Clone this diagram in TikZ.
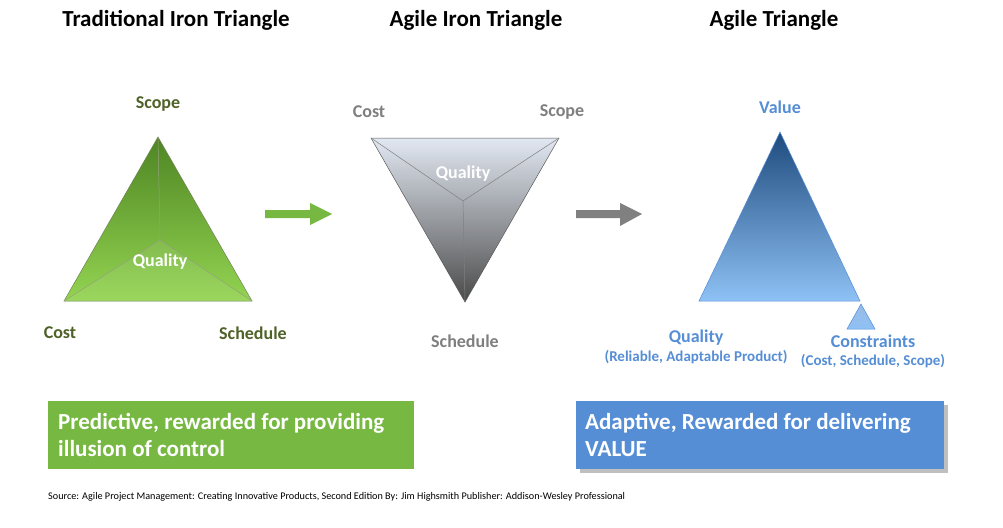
\documentclass[tikz,border=0pt]{standalone}
\usepackage{fontspec}
\setmainfont{Carlito}
\definecolor{olivegreen}{HTML}{4F6228}
\definecolor{boxgreen}{HTML}{77B843}
\definecolor{boxblue}{HTML}{558ED5}
\definecolor{lblgray}{HTML}{7F7F7F}
\definecolor{lblblue}{HTML}{558ED5}
\definecolor{gtop}{HTML}{4E8523}
\definecolor{gbot}{HTML}{93D451}
\definecolor{stop}{HTML}{E2E8F2}
\definecolor{sbot}{HTML}{4A4A4A}
\definecolor{btop}{HTML}{1F4B7E}
\definecolor{bbot}{HTML}{8EC1F5}
\tikzset{
  title/.style={font=\bfseries\fontsize{23}{27}\selectfont, text=black},
  vlabel/.style={font=\bfseries\fontsize{18}{21}\selectfont},
  sublabel/.style={font=\bfseries\fontsize{15}{18}\selectfont, text=lblblue},
  facet/.style={line width=0.5pt},
  boxtext/.style={font=\bfseries\fontsize{23}{27}\selectfont, text=white, align=left, anchor=north west, inner sep=0pt},
}
\begin{document}
\begin{tikzpicture}[x=1pt,y=1pt]
\useasboundingbox (0,0) rectangle (1003,-527);
\fill[white] (0,0) rectangle (1003,-527);

% titles
\node[title] (t1) at (176,-20) {Traditional Iron Triangle};
\node[title] (t2) at (476,-20) {Agile Iron Triangle};
\node[title] (t3) at (774,-20) {Agile Triangle};

% triangle 1
\coordinate (a1) at (158,-137);
\coordinate (b1) at (64,-301);
\coordinate (c1) at (252,-301);
\coordinate (q1) at (160,-240);
\shade[top color=gtop, bottom color=gbot] (a1) -- (b1) -- (c1) -- cycle;
\fill[white, opacity=0.08] (q1) -- (b1) -- (c1) -- cycle;
\draw[facet, draw=olivegreen!80] (a1) -- (b1) -- (c1) -- cycle;
\draw[facet, draw=olivegreen!60] (q1) -- (a1) (q1) -- (b1) (q1) -- (c1);
\node[vlabel, text=olivegreen] (scope1) at (158,-104) {Scope};
\node[vlabel, text=olivegreen] (cost1) at (60,-333) {Cost};
\node[vlabel, text=olivegreen] (sched1) at (253,-333) {Schedule};
\node[vlabel, text=white] (qual1) at (160,-262) {Quality};

% green arrow
\fill[boxgreen] (265,-210) -- (310,-210) -- (310,-203) -- (332,-214) -- (310,-225) -- (310,-218) -- (265,-218) -- cycle;

% triangle 2
\coordinate (a2) at (371,-138);
\coordinate (b2) at (559,-138);
\coordinate (c2) at (465,-302);
\coordinate (q2) at (463,-201);
\shade[top color=stop, bottom color=sbot] (a2) -- (b2) -- (c2) -- cycle;
\draw[facet, draw=gray!70!black] (a2) -- (b2) -- (c2) -- cycle;
\draw[facet, draw=gray] (q2) -- (a2) (q2) -- (b2) (q2) -- (c2);
\node[vlabel, text=lblgray] (cost2) at (369,-112) {Cost};
\node[vlabel, text=lblgray] (scope2) at (562,-112) {Scope};
\node[vlabel, text=white] (qual2) at (463,-174) {Quality};
\node[vlabel, text=lblgray] (sched2) at (465,-341) {Schedule};

% gray arrow
\fill[gray] (576,-210) -- (620,-210) -- (620,-203) -- (642,-214) -- (620,-226) -- (620,-218) -- (576,-218) -- cycle;

% triangle 3
\coordinate (a3) at (780,-132);
\coordinate (b3) at (699,-301);
\coordinate (c3) at (860,-301);
\shade[top color=btop, bottom color=bbot] (a3) -- (b3) -- (c3) -- cycle;
\draw[facet, draw=lblblue] (a3) -- (b3) -- (c3) -- cycle;
\coordinate (a4) at (861,-304);
\coordinate (b4) at (847,-329);
\coordinate (c4) at (875,-329);
\shade[top color=lblblue!60, bottom color=bbot] (a4) -- (b4) -- (c4) -- cycle;
\draw[facet, draw=lblblue] (a4) -- (b4) -- (c4) -- cycle;
\node[vlabel, text=lblblue] (value3) at (780,-107) {Value};
\node[vlabel, text=lblblue] (qual3) at (696,-338) {Quality};
\node[sublabel] (qual3s) at (696,-357) {(Reliable, Adaptable Product)};
\node[vlabel, text=lblblue] (cons3) at (873,-341) {Constraints};
\node[sublabel] (cons3s) at (873,-361) {(Cost, Schedule, Scope)};

% boxes
\fill[boxgreen] (48,-401) rectangle (414,-469);
\node[boxtext] (gtext) at (58,-413) {Predictive, rewarded for providing\\illusion of control};
\fill[black, opacity=0.25] (580,-405) rectangle (948,-473);
\fill[boxblue] (576,-401) rectangle (944,-469);
\node[boxtext] (btext) at (585,-413) {Adaptive, Rewarded for delivering\\VALUE};

% source
\node[anchor=west, font=\fontsize{10.2}{12}\selectfont, inner sep=0pt] (src) at (48,-497) {Source: Agile Project Management: Creating Innovative Products, Second Edition By: Jim Highsmith Publisher: Addison-Wesley Professional};
\end{tikzpicture}
\end{document}
